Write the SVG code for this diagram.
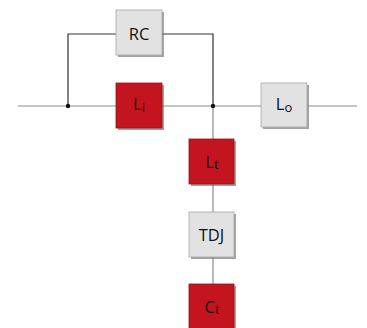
<svg xmlns="http://www.w3.org/2000/svg" width="367" height="328" viewBox="0 0 367 328">
<style>
.sh{fill:#7a7a7a;opacity:0.7}
.red{fill:#c3141f;stroke:#9a1016;stroke-width:0.8}
.gray{fill:#e2e2e2;stroke:#a8a8a8;stroke-width:0.8}
.t{font-family:"Open Sans","Liberation Sans",sans-serif;font-size:16.5px;fill:#111;text-anchor:middle}
.sub{font-size:13px}
.main{stroke:#8c8c8c;stroke-width:1.2;fill:none}
.dark{stroke:#333;stroke-width:1.2;fill:none}
</style>
<rect width="367" height="328" fill="#fff"/>
<g id="connectors">
<line class="main" x1="18" y1="106" x2="357" y2="106"/>
<polyline class="dark" points="68,106 68,34 116,34"/>
<polyline class="dark" points="162,34 213,34 213,106"/>
<line class="main" x1="213" y1="106" x2="213" y2="139"/>
<line class="main" x1="213" y1="184" x2="213" y2="212"/>
<line class="main" x1="213" y1="257" x2="213" y2="284"/>
<circle cx="68" cy="106" r="2.2" fill="#111"/>
<circle cx="213" cy="106" r="2.2" fill="#111"/>
</g>
<g id="RC">
<rect class="sh" x="118" y="12" width="46" height="45"/>
<rect class="gray" x="116" y="10" width="46" height="45"/>
<text class="t" x="139" y="39.5">RC</text>
</g>
<g id="Li">
<rect class="sh" x="118" y="85" width="46" height="45"/>
<rect class="red" x="116" y="83" width="46" height="45"/>
<text class="t" x="139" y="110">L<tspan class="sub" dy="1.5">i</tspan></text>
</g>
<g id="Lo">
<rect class="sh" x="263" y="85" width="46" height="44"/>
<rect class="gray" x="261" y="83" width="46" height="44"/>
<text class="t" x="284" y="110">L<tspan class="sub" dy="1.5">o</tspan></text>
</g>
<g id="Lt">
<rect class="sh" x="191" y="141" width="45" height="45"/>
<rect class="red" x="189" y="139" width="45" height="45"/>
<text class="t" x="212" y="167.5">L<tspan class="sub" dy="1.5">t</tspan></text>
</g>
<g id="TDJ">
<rect class="sh" x="191" y="214" width="45" height="45"/>
<rect class="gray" x="189" y="212" width="45" height="45"/>
<text class="t" x="211.5" y="240.5">TDJ</text>
</g>
<g id="Ct">
<rect class="sh" x="191" y="286" width="45" height="45"/>
<rect class="red" x="189" y="284" width="45" height="45"/>
<text class="t" x="212" y="312.5">C<tspan class="sub" dy="1.5">t</tspan></text>
</g>
</svg>
